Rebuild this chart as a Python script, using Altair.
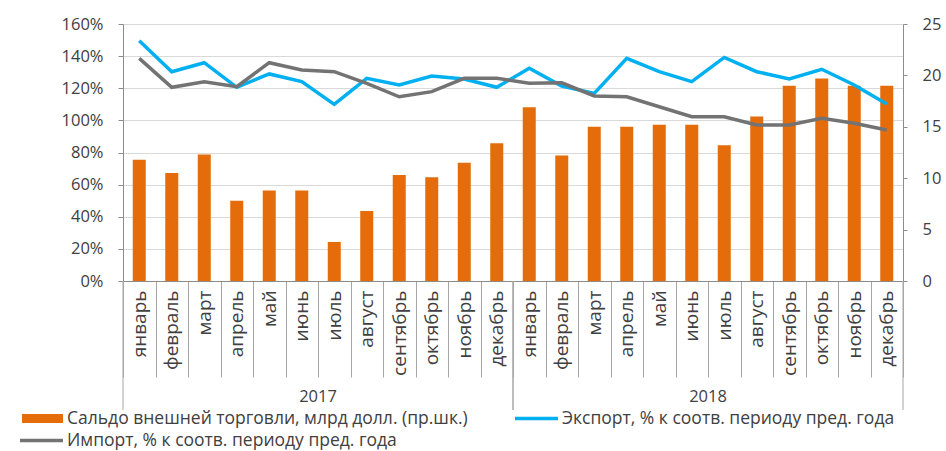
import altair as alt
import pandas as pd

months = ["январь", "февраль", "март", "апрель", "май", "июнь", "июль",
          "август", "сентябрь", "октябрь", "ноябрь", "декабрь"]
years = [2017, 2018]

# Сальдо внешней торговли, млрд долл. (right scale)
balance = [11.8, 10.5, 12.3, 7.8, 8.8, 8.8, 3.8, 6.8, 10.3, 10.1, 11.5, 13.4,
           16.9, 12.2, 15.0, 15.0, 15.2, 15.2, 13.2, 16.0, 19.0, 19.7, 19.0, 19.0]
# Экспорт, % к соотв. периоду пред. года (left scale)
export = [149.6, 130.3, 135.9, 120.6, 128.9, 124.1, 110.0, 126.2, 122.0, 127.6, 125.8, 120.6,
          132.4, 121.4, 116.8, 138.6, 130.3, 124.1, 139.2, 130.3, 125.8, 131.8, 122.0, 110.2]
# Импорт, % к соотв. периоду пред. года (left scale)
imports = [138.6, 120.6, 124.1, 121.0, 135.9, 131.4, 130.3, 123.1, 114.7, 117.9, 126.2, 126.2,
           123.1, 123.4, 115.2, 114.7, 108.5, 102.3, 102.3, 97.1, 97.1, 101.3, 98.2, 94.0]

series_names = ["Сальдо внешней торговли, млрд долл. (пр.шк.)",
                "Экспорт, % к соотв. периоду пред. года",
                "Импорт, % к соотв. периоду пред. года"]

left_ticks = [0, 20, 40, 60, 80, 100, 120, 140, 160]
right_ticks = [0, 5, 10, 15, 20, 25]

ORANGE = "#E46C0A"
BLUE = "#00B0F0"
GRAY = "#737373"
TEXT = "#404040"
AXIS = "#8C8C8C"
SEP = "#A6A6A6"
FONT = "Open Sans"

nm = len(months)
n = nm * len(years)
idx = list(range(n))

bars_df = pd.DataFrame({"idx": idx, "balance": balance})
lines_df = pd.DataFrame({
    "idx": idx + idx,
    "value": export + imports,
    "series": [series_names[1]] * n + [series_names[2]] * n,
})
years_first_df = pd.DataFrame({"idx": [i * nm for i in range(len(years))]})
years_last_df = pd.DataFrame({"idx": [i * nm + nm - 1 for i in range(len(years))]})
years_mid_df = pd.DataFrame({
    "idx": [i * nm + nm // 2 - 1 for i in range(len(years))],
    "year": [str(y) for y in years],
})

month_expr = "[" + ",".join("'" + m + "'" for m in months) + "][datum.value % " + str(nm) + "]"

xscale = alt.Scale(domain=idx, paddingInner=0, paddingOuter=0)

x_axis = alt.Axis(
    title=None, labelExpr=month_expr, labelAngle=270, labelAlign="right",
    labelBaseline="middle", labelPadding=-87, labelFontSize=19, labelColor=TEXT,
    labelFont=FONT, labelOverlap=False, tickBand="extent", tickSize=96,
    tickColor=SEP, domainColor=AXIS, grid=False,
)


def xenc(band=None):
    if band is None:
        return alt.X("idx:O", scale=xscale, axis=x_axis)
    return alt.X("idx:O", scale=xscale, axis=x_axis, bandPosition=band)


bars = alt.Chart(bars_df).mark_bar(color=ORANGE, width=alt.RelativeBandSize(0.4)).encode(
    x=xenc(),
    y=alt.Y("balance:Q", scale=alt.Scale(domain=[0, 25], nice=False),
            axis=alt.Axis(orient="right", values=right_ticks, grid=False, title=None,
                          tickSize=4, labelPadding=15, domainColor=AXIS, tickColor=AXIS,
                          labelFontSize=16.5, labelColor=TEXT, labelFont=FONT, labelAlign="left")),
)

lines = alt.Chart(lines_df).mark_line(strokeWidth=3.5).encode(
    x=xenc(),
    y=alt.Y("value:Q", scale=alt.Scale(domain=[0, 160], nice=False),
            axis=alt.Axis(orient="left", values=left_ticks, labelExpr="datum.value + '%'",
                          grid=True, gridColor="#D9D9D9", title=None, tickSize=5,
                          labelPadding=15, domainColor=AXIS, tickColor=AXIS,
                          labelFontSize=16.5, labelColor=TEXT, labelFont=FONT)),
    color=alt.Color("series:N", scale=alt.Scale(domain=series_names[1:], range=[BLUE, GRAY]),
                    legend=None),
)

year_rule_left = alt.Chart(years_first_df).mark_rule(color=SEP).encode(
    x=xenc(0), y=alt.value(257), y2=alt.value(386),
)
year_rule_right = alt.Chart(years_last_df).mark_rule(color=SEP).encode(
    x=xenc(1), y=alt.value(257), y2=alt.value(386),
)
year_text = alt.Chart(years_mid_df).mark_text(fontSize=16.5, color=TEXT, font=FONT,
                                              baseline="middle").encode(
    x=xenc(1), y=alt.value(373), text="year:N",
)

leg1_df = pd.DataFrame({"t": [series_names[0]]})
leg2_df = pd.DataFrame({"t": [series_names[1]]})
leg3_df = pd.DataFrame({"t": [series_names[2]]})

LFS = 17.5
leg1_sw = alt.Chart(leg1_df).mark_rect(color=ORANGE).encode(
    x=alt.value(-101), x2=alt.value(-60), y=alt.value(390), y2=alt.value(399))
leg1_tx = alt.Chart(leg1_df).mark_text(align="left", baseline="middle", fontSize=LFS,
                                       color=TEXT, font=FONT).encode(
    x=alt.value(-56), y=alt.value(395), text="t:N")
leg2_sw = alt.Chart(leg2_df).mark_rule(color=BLUE, strokeWidth=3.5).encode(
    x=alt.value(392), x2=alt.value(435), y=alt.value(394.5))
leg2_tx = alt.Chart(leg2_df).mark_text(align="left", baseline="middle", fontSize=LFS,
                                       color=TEXT, font=FONT).encode(
    x=alt.value(439), y=alt.value(395), text="t:N")
leg3_sw = alt.Chart(leg3_df).mark_rule(color=GRAY, strokeWidth=3.5).encode(
    x=alt.value(-103), x2=alt.value(-60), y=alt.value(416.5))
leg3_tx = alt.Chart(leg3_df).mark_text(align="left", baseline="middle", fontSize=LFS,
                                       color=TEXT, font=FONT).encode(
    x=alt.value(-56), y=alt.value(417), text="t:N")

chart = alt.layer(
    bars, lines, year_rule_left, year_rule_right, year_text,
    leg1_sw, leg1_tx, leg2_sw, leg2_tx, leg3_sw, leg3_tx,
).resolve_scale(y="independent").properties(
    width=780, height=257,
    padding={"left": 123, "top": 24, "right": 43, "bottom": 170},
    autosize=alt.AutoSizeParams(type="none"),
    background="white",
).configure_view(stroke=None)

chart.save("out.html", embed_options={"renderer": "svg", "actions": False})
